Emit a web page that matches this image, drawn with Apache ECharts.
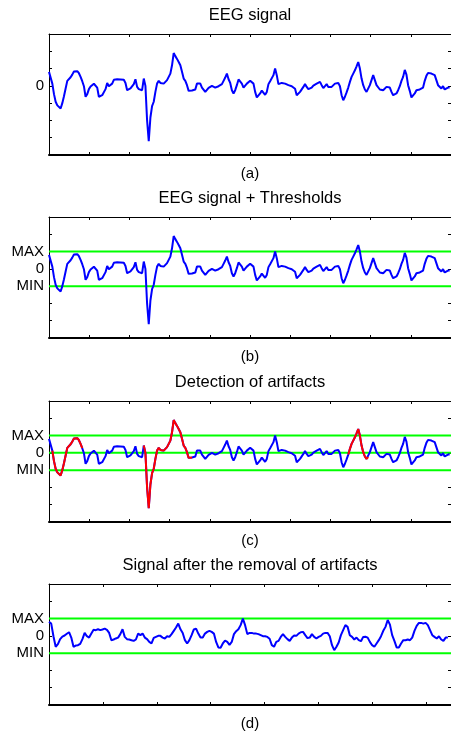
<!DOCTYPE html>
<html>
<head>
<meta charset="utf-8">
<title>EEG artifacts</title>
<script src="https://cdn.jsdelivr.net/npm/echarts@6/dist/echarts.min.js"></script>
<style>
  html, body { margin: 0; padding: 0; background: #fff; }
  #chart { width: 451px; height: 734px; }
</style>
</head>
<body>
<div id="chart"></div>
<script>
// raw EEG trace, one sample every ~1.67 px
const eeg = [
  0.81, 0.71, 0.13, -0.48, -0.92, -1.13, -1.17, -1.31, -1.0, -0.6,
  -0.15, 0.29, 0.38, 0.5, 0.65, 0.83, 0.87, 0.85, 0.73, 0.52,
  0.27, -0.02, -0.63, -0.48, -0.19, -0.04, 0.02, 0.12, 0.21, -0.1,
  -0.63, -0.56, -0.54, -0.46, -0.19, 0.17, -0.02, -0.1, 0.13, 0.35,
  0.33, 0.38, 0.33, 0.37, 0.42, 0.35, 0.17, -0.25, -0.21, -0.15,
  -0.1, 0.1, 0.38, -0.06, -0.19, -0.21, -0.25, 0.42, 0.0, -2.0,
  -3.2, -1.83, -1.17, -0.92, -0.35, 0.13, 0.29, 0.17, 0.21, 0.13,
  0.23, 0.33, 0.52, 0.71, 1.19, 1.9, 1.72, 1.56, 1.38, 1.19,
  0.81, 0.42, 0.29, 0.04, -0.29, -0.31, -0.27, -0.29, -0.21, 0.13,
  0.04, 0.13, -0.1, -0.19, -0.35, -0.44, -0.12, -0.06, 0, 0,
  -0.1, -0.15, -0.02, -0.06, 0.1, 0.29, 0.48, 0.71, 0.38, 0.17,
  -0.25, -0.44, -0.25, 0.04, 0.37, 0.42, 0.13, -0.1, -0.1, 0.13,
  0.23, 0.29, 0.23, 0.13, -0.35, -0.67, -0.69, -0.44, -0.27, -0.35,
  -0.52, -0.35, 0.1, 0.27, 0.38, 0.62, 1.0, 0.62, 0.1, 0.17,
  0.17, 0.13, 0.13, 0.1, 0.04, -0.02, -0.02, -0.06, -0.17, -0.54,
  -0.63, -0.35, -0.29, -0.06, 0.1, -0.06, -0.19, -0.29, -0.1, 0.02,
  0, 0.13, 0.21, 0.23, 0.04, -0.13, -0.1, 0.1, -0.06, -0.15,
  -0.06, 0, 0.13, 0.17, 0.17, -0.02, -0.54, -0.83, -0.63, -0.38,
  -0.1, 0.23, 0.52, 0.71, 0.9, 1.13, 1.38, 1.0, 0.42, 0.04,
  -0.21, -0.35, -0.25, 0.04, 0.33, 0.62, 0.52, 0.04, -0.06, -0.21,
  -0.1, -0.25, -0.31, -0.06, -0.05, -0.1, -0.35, -0.54, -0.63, -0.44,
  -0.25, -0.02, 0.29, 0.52, 0.92, 0.65, 0.04, -0.29, -0.67, -0.67,
  -0.44, -0.25, -0.25, -0.21, -0.25, -0.1, 0.29, 0.58, 0.75, 0.75,
  0.71, 0.75, 0.62, 0.33, 0.04, -0.06, -0.15, -0.02, -0.21, -0.29,
  -0.1, -0.1
]

// detected artifact stretches (sample indices, inclusive)
const artifactStart = [2, 57, 180]
const artifactEnd = [20, 86, 192]

const maxThreshold = 1
const minThreshold = -1

const panelTitles = ['EEG signal', 'EEG signal + Thresholds', 'Detection of artifacts', 'Signal after the removal of artifacts']
const panelLabels = ['(a)', '(b)', '(c)', '(d)']

const yMin = -4
const yMax = 3
const xStep = 24.18       // samples between x ticks
const rawSpan = 241.8     // x extent of panels a-c
const cleanSpan = 180.4   // x extent of panel d

const FONT = '"Liberation Sans", Arial, Helvetica, sans-serif'
const gridTops = [34, 217, 401, 584]

const isArtifact = i => artifactStart.some((s, k) => i >= s && i <= artifactEnd[k])

const rawData = eeg.map((v, i) => [i, v])
// signal with artifacts cut out, re-indexed
const cleanData = eeg.filter((v, i) => !isArtifact(i)).map((v, k) => [k, v])

const chart = echarts.init(document.getElementById('chart'), null, { renderer: 'canvas' })

const grid = [], xAxis = [], yAxis = [], series = []

const axisLine = { show: true, onZero: false, lineStyle: { color: '#000', width: 1 } }
const bottomLine = { show: true, onZero: false, lineStyle: { color: '#000', width: 2 } }
const axisTick = { show: true, inside: true, length: 3, lineStyle: { color: '#000', width: 1 } }

gridTops.forEach((top, p) => {
  const span = p === 3 ? cleanSpan : rawSpan
  grid.push({ left: 49, top: top, width: 403, height: 121 })

  const xBase = {
    gridIndex: p, type: 'value', min: 0, max: span, interval: xStep,
    axisTick: axisTick, axisLabel: { show: false },
    splitLine: { show: false }, nameLocation: 'middle'
  }
  xAxis.push(Object.assign({}, xBase, {
    position: 'bottom', axisLine: bottomLine, name: panelLabels[p], nameGap: 11,
    nameTextStyle: { color: '#000', fontSize: 15, fontFamily: FONT }
  }))
  xAxis.push(Object.assign({}, xBase, {
    position: 'top', axisLine: axisLine, name: panelTitles[p], nameGap: 10,
    nameTextStyle: { color: '#000', fontSize: 16.5, fontFamily: FONT }
  }))

  const yBase = {
    gridIndex: p, type: 'value', min: yMin, max: yMax, interval: 1,
    axisLine: axisLine, axisTick: axisTick, splitLine: { show: false }
  }
  yAxis.push(Object.assign({}, yBase, {
    position: 'left',
    axisLabel: {
      color: '#000', fontSize: 15, fontFamily: FONT, margin: 5,
      formatter: v => {
        if (v === 0) return '0'
        if (p > 0 && v === maxThreshold) return 'MAX'
        if (p > 0 && v === minThreshold) return 'MIN'
        return ''
      }
    }
  }))
  yAxis.push(Object.assign({}, yBase, { position: 'right', axisLabel: { show: false } }))

  // thresholds
  if (p > 0) {
    const levels = p === 2 ? [maxThreshold, 0, minThreshold] : [maxThreshold, minThreshold]
    levels.forEach(lv => {
      series.push({
        type: 'line', xAxisIndex: p * 2, yAxisIndex: p * 2,
        data: [[0, lv], [span, lv]], symbol: 'none', silent: true, z: 2,
        lineStyle: { color: '#00ff00', width: 2 }
      })
    })
  }

  series.push({
    type: 'line', xAxisIndex: p * 2, yAxisIndex: p * 2,
    data: p === 3 ? cleanData : rawData,
    symbol: 'none', silent: true, z: 3,
    lineStyle: { color: '#0000ff', width: 2 }
  })

  if (p === 2) {
    artifactStart.forEach((s, k) => {
      series.push({
        type: 'line', xAxisIndex: 4, yAxisIndex: 4,
        data: rawData.slice(s, artifactEnd[k] + 1),
        symbol: 'none', silent: true, z: 4,
        lineStyle: { color: '#ff0000', width: 2 }
      })
    })
  }
})

chart.setOption({
  backgroundColor: '#fff',
  animation: false,
  grid: grid,
  xAxis: xAxis,
  yAxis: yAxis,
  series: series
})
</script>
</body>
</html>
